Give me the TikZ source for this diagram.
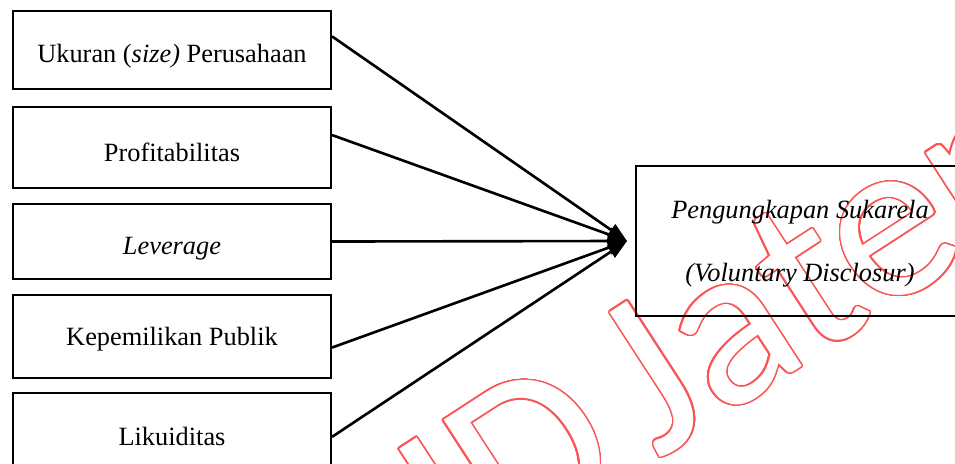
\documentclass[tikz,border=0pt]{standalone}
\usepackage{fontspec}
\setmainfont{Liberation Serif}
\newfontfamily\wmfont{Carlito}
\usepackage[copies]{contour}
\contourlength{0.8pt}
\contournumber{40}
\usetikzlibrary{arrows.meta,calc}
\definecolor{wmred}{RGB}{250,85,85}
\newcommand{\lowered}[2]{\raisebox{-#1}[\height][\depth]{#2}}
\begin{document}
\begin{tikzpicture}[x=0.02cm,y=-0.02cm,
  box/.style={draw,line width=1.2pt,minimum width=6.36cm,inner sep=0pt,font=\fontsize{15}{18}\selectfont},
  conn/.style={line width=1.5pt,-{Triangle[length=11pt,width=8pt]}}]
\clip (0,0) rectangle (955,463);
\node[rotate=33,anchor=base west,inner sep=0pt] (wm) at (386,636.5) {\wmfont\fontsize{133}{140}\selectfont\contour{wmred}{\textcolor{white}{UD}}\kern17pt\contour{wmred}{\textcolor{white}{Jateng}}};
\node[box,minimum height=1.56cm] (b1) at (172,50) {\lowered{3.4pt}{Ukuran (\textit{size)} Perusahaan}};
\node[box,minimum height=1.62cm] (b2) at (172,147.5) {\lowered{2.8pt}{Profitabilitas}};
\node[box,minimum height=1.5cm] (b3) at (172,241.5) {\lowered{4pt}{\textit{Leverage}}};
\node[box,minimum height=1.66cm] (b4) at (172,336.5) {\lowered{1.7pt}{Kepemilikan Publik}};
\node[box,minimum height=1.72cm] (b5) at (172,436) {Likuiditas};
\node[box,minimum width=6.56cm,minimum height=3cm,align=center,font=\fontsize{15}{36}\selectfont\itshape] (vd) at (800,241) {\lowered{1.5pt}{Pengungkapan Sukarela}\\\lowered{1.5pt}{(Voluntary Disclosur)}};
\coordinate (T) at ($(vd.west)+(-8,0)$);
\draw[conn] ($(b1.north east)!0.33!(b1.south east)$) -- (T);
\draw[conn] ($(b2.north east)!0.35!(b2.south east)$) -- (T);
\draw[conn] ($(b3.north east)!0.5!(b3.south east)$) -- (T);
\draw[conn] ($(b4.north east)!0.63!(b4.south east)$) -- (T);
\draw[conn] ($(b5.north east)!0.51!(b5.south east)$) -- (T);
\end{tikzpicture}
\end{document}
